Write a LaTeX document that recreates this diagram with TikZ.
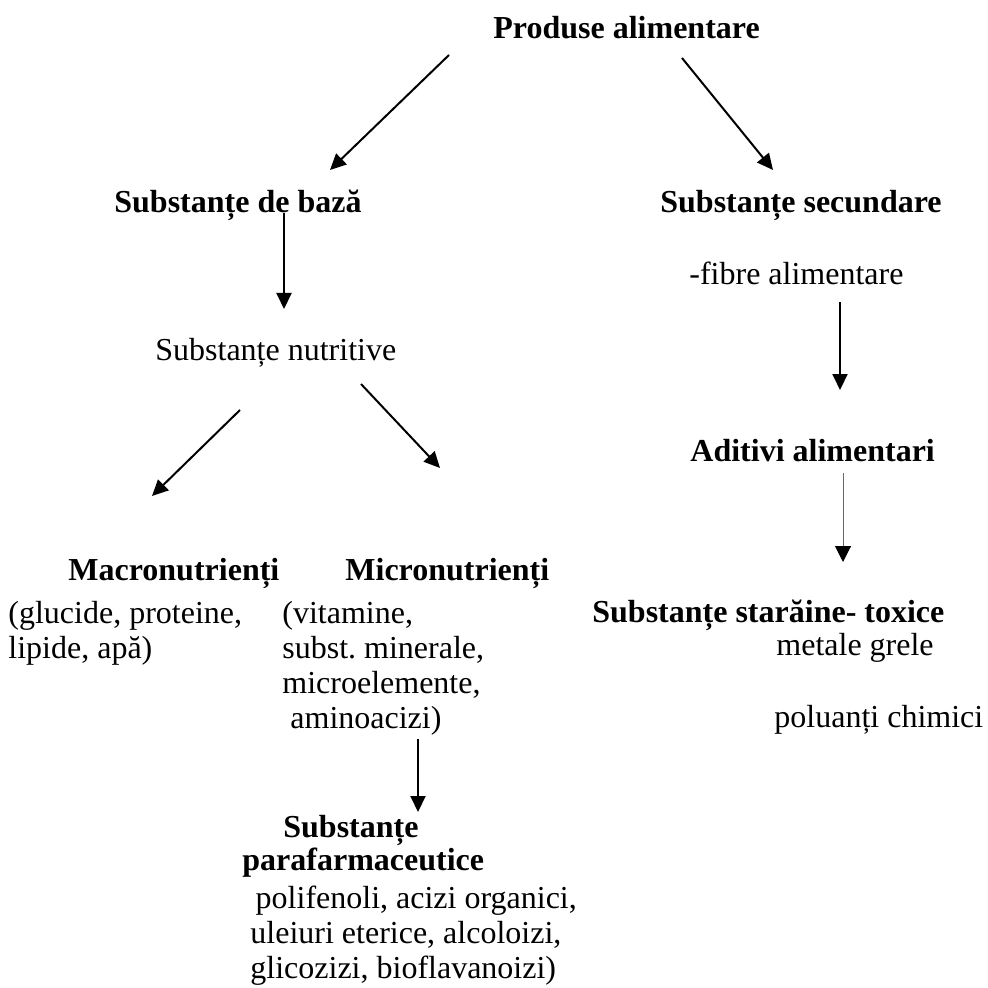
\documentclass[tikz,border=0pt]{standalone}
\usepackage{fontspec}
\setmainfont{Liberation Serif}
\usetikzlibrary{arrows.meta,positioning}

\begin{document}
\begin{tikzpicture}[x=0.5pt, y=-0.5pt, >={Triangle[length=8pt,width=7.5pt]}]
\tikzset{
   titlu/.style={font=\fontsize{16}{17.5}\selectfont\bfseries, inner sep=0pt, anchor=base west},
   textn/.style={font=\fontsize{16}{17.5}\selectfont, inner sep=0pt, anchor=base west},
   sageata/.style={->, line width=1pt},
   sageata2/.style={-{Triangle[length=8pt,width=8pt,color=black]}, line width=0.5pt, draw=black!60},
}
\useasboundingbox (0,0) rectangle (987,988);

\node[titlu] (produse) at (493,39) {Produse alimentare};
\node[titlu] (baza) at (114,213) {Substanțe de bază};
\node[titlu] (secundare) at (660,213) {Substanțe secundare};
\node[textn] (fibre) at (689,285) {-fibre alimentare};
\node[textn] (nutritive) at (155,360) {Substanțe nutritive};
\node[titlu] (aditivi) at (690,461) {Aditivi alimentari};
\node[titlu] (macro) at (68,580) {Macronutrienți};
\node[titlu] (micro) at (345,580) {Micronutrienți};
\node[textn] (macrolist) at (8,623) {\begin{tabular}[t]{@{}l@{}}(glucide, proteine,\\ lipide, apă)\end{tabular}};
\node[textn] (microlist) at (282,623) {\begin{tabular}[t]{@{}l@{}}(vitamine,\\ subst.\ minerale,\\ microelemente,\\ \ aminoacizi)\end{tabular}};
\node[titlu] (toxice) at (592,622) {Substanțe starăine- toxice};
\node[textn] (metale) at (776,655) {metale grele};
\node[textn] (poluanti) at (774,727) {poluanți chimici};
\node[titlu] (substpara) at (283,837) {Substanțe};
\node[titlu] (para) at (242,870) {parafarmaceutice};
\node[textn] (paralist) at (250,908) {\begin{tabular}[t]{@{}l@{}}\,polifenoli, acizi organici,\\ uleiuri eterice, alcoloizi,\\ glicozizi, bioflavanoizi)\end{tabular}};

% capetele sagetilor
\coordinate (s1) at (449,55);   \coordinate (e1) at (330,170);
\coordinate (s2) at (682,58);   \coordinate (e2) at (773,170);
\coordinate (s3) at (284,213);  \coordinate (e3) at (284,309);
\coordinate (s4) at (840,302);  \coordinate (e4) at (840,390);
\coordinate (s5) at (240,410);  \coordinate (e5) at (152,496);
\coordinate (s6) at (361,384);  \coordinate (e6) at (440,468);
\coordinate (s7) at (843,473);  \coordinate (e7) at (843,562);
\coordinate (s8) at (418,739);  \coordinate (e8) at (418,812);

\draw[sageata] (s1) -- (e1);
\draw[sageata] (s2) -- (e2);
\draw[sageata] (s3) -- (e3);
\draw[sageata] (s4) -- (e4);
\draw[sageata] (s5) -- (e5);
\draw[sageata] (s6) -- (e6);
\draw[sageata2] (s7) -- (e7);
\draw[sageata] (s8) -- (e8);

\end{tikzpicture}
\end{document}
